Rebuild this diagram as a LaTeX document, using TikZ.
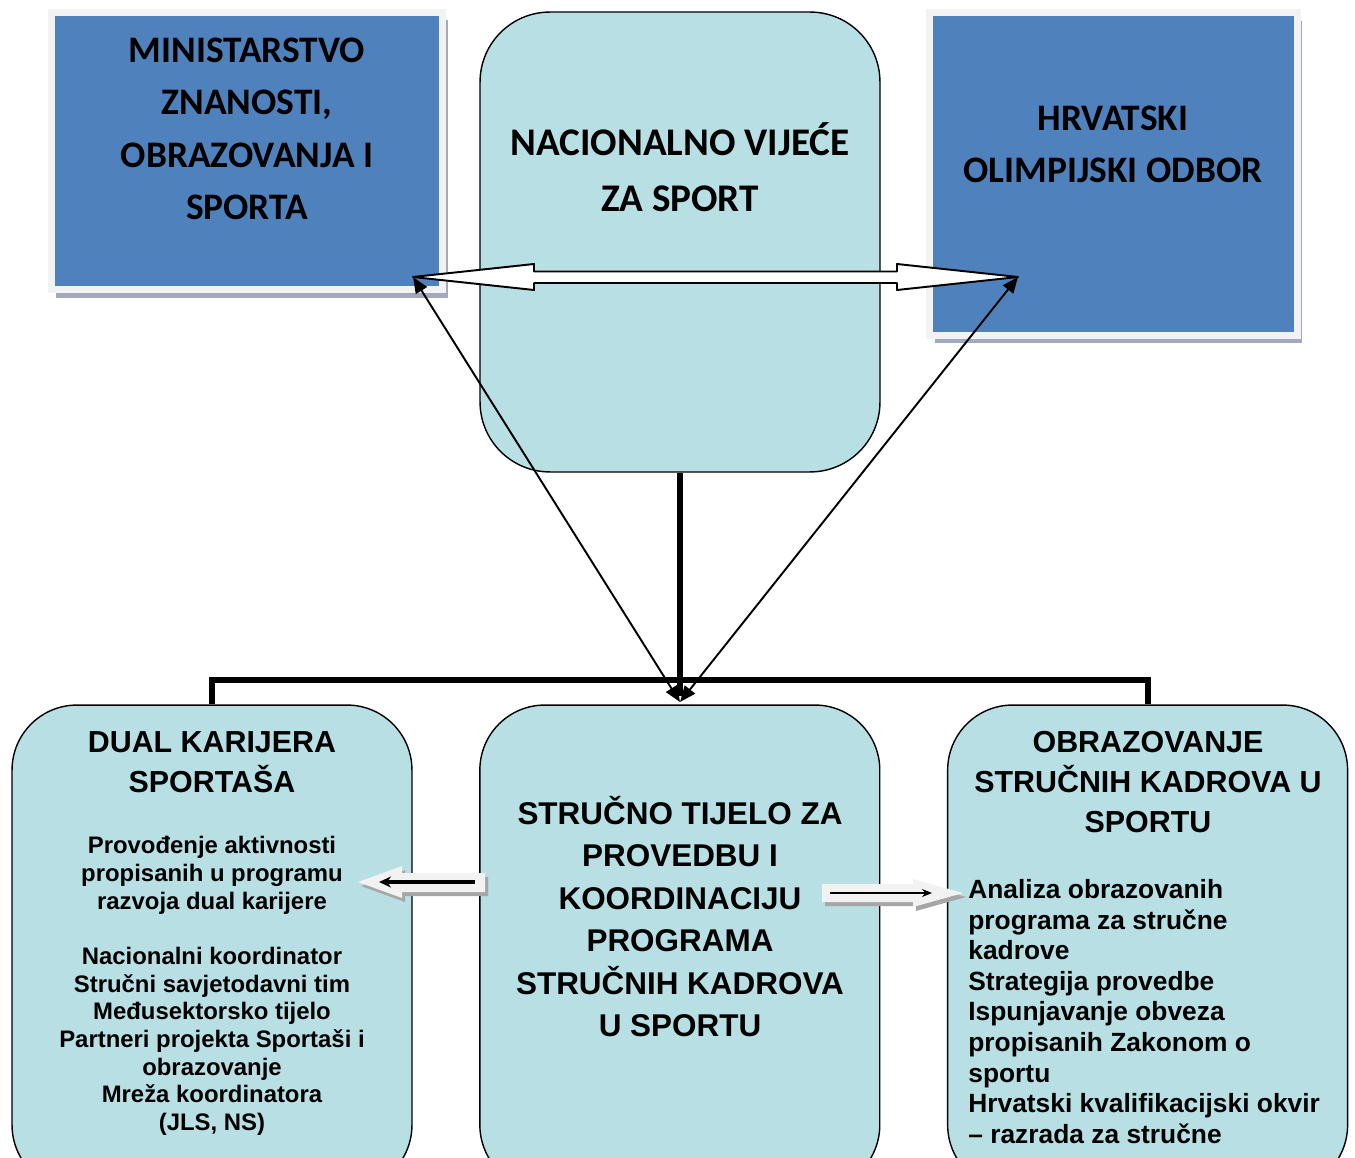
\documentclass[tikz,border=0pt]{standalone}
\usepackage{fontspec}
\newfontfamily\arialfam{Liberation Sans}
\newfontfamily\calibrifam{Carlito}
\usepackage{tikz}
\usetikzlibrary{arrows.meta}
\usetikzlibrary{shadows}
\usetikzlibrary{calc}
\usetikzlibrary{positioning}
\definecolor{officeblue}{RGB}{79,129,189}
\definecolor{aquafill}{RGB}{184,223,227}
\definecolor{framegrey}{RGB}{242,242,242}
\definecolor{shadegrey}{RGB}{160,170,188}

\tikzset{
  govbox/.style={draw=framegrey, line width=0.14cm, fill=officeblue,
    drop shadow={shadow xshift=0.1cm, shadow yshift=-0.16cm, fill=shadegrey, opacity=1}},
  aquabox/.style={draw=black, line width=0.8pt, fill=aquafill, minimum width=8cm},
  govtxt/.style={align=center, inner sep=0pt, font=\calibrifam\bfseries\fontsize{21.3}{29.8}\selectfont},
  titletxt/.style={align=center, inner sep=0pt, font=\arialfam\bfseries\fontsize{17.3}{22.8}\selectfont},
  bodytxt/.style={align=center, inner sep=0pt, font=\arialfam\bfseries\fontsize{13.6}{15.75}\selectfont},
  listtxt/.style={align=left, anchor=west, inner sep=0pt, font=\arialfam\bfseries\fontsize{15}{17.4}\selectfont},
  trunk/.style={line width=0.12cm},
  link/.style={line width=1.1pt, {Triangle[length=0.32cm,width=0.26cm]}-{Triangle[length=0.32cm,width=0.26cm]}},
  hollow/.style={draw=black, line width=1.1pt, fill=white, line join=round},
  pale/.style={fill=framegrey, drop shadow={shadow xshift=0.06cm, shadow yshift=-0.08cm, fill=black!35, opacity=1}}
}

\begin{document}
\begin{tikzpicture}[x=0.02cm, y=-0.02cm]
\useasboundingbox (0,0) rectangle (1355,1158);

\node[govbox, minimum width=7.84cm, minimum height=5.55cm] (mzo) at (247,151) {};
\node[govbox, minimum width=7.36cm, minimum height=6.46cm] (hoo) at (1113.5,174) {};
\node[aquabox, rounded corners=1.4cm, minimum height=9.2cm] (council) at (680,242) {};
\node[aquabox, rounded corners=1.3cm, minimum height=9.7cm] (dual) at (212,947.5) {};
\node[aquabox, rounded corners=1.3cm, minimum height=9.7cm, right=1.33cm of dual] (body) {};
\node[aquabox, rounded corners=1.3cm, minimum height=9.7cm, right=1.33cm of body] (edu) {};

\node[govtxt] (mzoTxt) at (247,129) {MINISTARSTVO\\ZNANOSTI,\\OBRAZOVANJA I\\SPORTA};
\node[govtxt, font=\calibrifam\bfseries\fontsize{22.3}{31.7}\selectfont] (councilTxt) at (680,167) {NACIONALNO VIJEĆE\\ZA SPORT};
\node[govtxt] (hooTxt) at (1113,144.5) {HRVATSKI\\OLIMPIJSKI ODBOR};

\node[titletxt] (dualTitle) at (212,762) {DUAL KARIJERA\\SPORTAŠA};
\node[bodytxt] (dualTxt) at (212,986) {Provođenje aktivnosti\\propisanih u programu\\razvoja dual karijere\\[15.75pt]Nacionalni koordinator\\Stručni savjetodavni tim\\Međusektorsko tijelo\\Partneri projekta Sportaši i\\obrazovanje\\Mreža koordinatora\\(JLS, NS)};
\node[titletxt, font=\arialfam\bfseries\fontsize{17.9}{24.2}\selectfont] (bodyTxt) at (680,916.5) {STRUČNO TIJELO ZA\\PROVEDBU I\\KOORDINACIJU\\PROGRAMA\\STRUČNIH KADROVA\\U SPORTU};
\node[titletxt] (eduTitle) at (1148,782) {OBRAZOVANJE\\STRUČNIH KADROVA U\\SPORTU};
\node[listtxt] (eduTxt) at (968,1011.5) {Analiza obrazovanih\\programa za stručne\\kadrove\\Strategija provedbe\\Ispunjavanje obveza\\propisanih Zakonom o\\sportu\\Hrvatski kvalifikacijski okvir\\– razrada za stručne};

\coordinate (hub) at (680,680);
\coordinate (apex) at (680,702);
\coordinate (mzoTip) at (413,277);
\coordinate (hooTip) at (1018,277);
\coordinate (dualIn) at (358,882);
\coordinate (eduIn) at (963,893);

\draw[trunk] (council.south) -- ($(apex)+(0,-6)$);
\draw[trunk] (dual.north) |- (hub) -| (edu.north);
\draw[link] (mzoTip) -- (apex);
\draw[link] (hooTip) -- (apex);

\draw[hollow] (mzoTip) -- ++(121,-13) -- ++(0,7.5) -- ($(hooTip)+(-121,-5.5)$) -- ++(0,-7.5) -- (hooTip)
    -- ++(-121,13) -- ++(0,-7) -- ($(mzoTip)+(121,6)$) -- ++(0,7) -- cycle;

\fill[pale] (dualIn) -- ++(44,-16) -- ++(0,7) -- ++(83,0) -- ++(0,19) -- ++(-83,0) -- ++(0,6) -- cycle;
\draw[line width=1.9pt, -{Stealth[length=0.24cm,width=0.22cm]}] ($(dualIn)+(117,0)$) -- ($(dualIn)+(21,0)$);
\fill[pale] (eduIn) -- ++(-50,-14) -- ++(0,5) -- ++(-91,0) -- ++(0,18) -- ++(91,0) -- ++(0,5) -- cycle;
\draw[line width=0.6pt, -{Stealth[length=0.2cm,width=0.16cm]}] ($(eduIn)+(-133,0)$) -- ($(eduIn)+(-31,0)$);
\end{tikzpicture}
\end{document}
